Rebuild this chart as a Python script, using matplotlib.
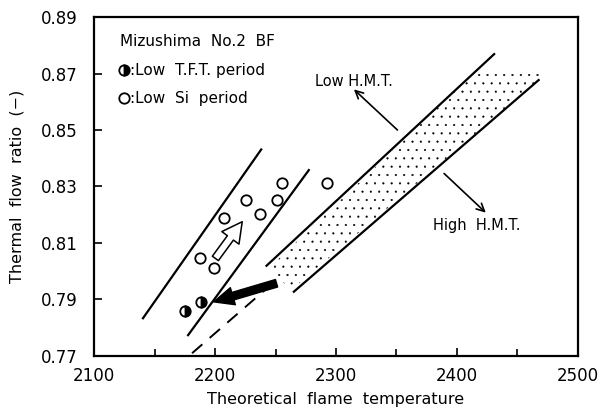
import matplotlib.pyplot as plt
from matplotlib.patches import Polygon

plt.rcParams['font.family'] = 'DejaVu Sans'
plt.rcParams['hatch.linewidth'] = 0.3

# open circles: low Si period
si_x = [2255.5, 2225.4, 2250.8, 2207.1, 2236.7, 2187.8, 2198.8, 2292.8]
si_y = [0.8313, 0.8251, 0.8251, 0.8189, 0.8202, 0.8045, 0.8012, 0.8311]

# half filled circles: low T.F.T. period
tft_x = [2174.8, 2188.4]
tft_y = [0.7858, 0.7889]

# straight guide lines (x0, x1), (y0, y1)
left_line = ([2140.3, 2238.1], [0.7833, 0.8431])
mid_line = ([2177.6, 2277.5], [0.7773, 0.8358])
dash_line = ([2180.9, 2244.4], [0.7709, 0.7945])
band_upper = ([2242.5, 2430.8], [0.8019, 0.8769])
band_lower = ([2265.1, 2467.6], [0.7927, 0.8677])

# dotted band outline
band_x = [2246.0, 2414.0, 2468.0, 2467.6, 2262.0]
band_y = [0.8017, 0.8700, 0.8700, 0.8677, 0.7930]

fig = plt.figure(figsize=(6.16, 4.08), dpi=100)
ax = fig.add_axes([0.153, 0.128, 0.785, 0.830])

ax.add_patch(Polygon(list(zip(band_x, band_y)), closed=True, fill=False,
                     hatch='..', edgecolor='black', lw=0))

for xs, ys in [left_line, mid_line, band_upper, band_lower]:
    ax.plot(xs, ys, color='black', lw=1.6)
ax.plot(dash_line[0], dash_line[1], color='black', lw=1.4, dashes=(7, 5))

ax.plot(si_x, si_y, 'o', ms=7.5, mfc='white', mec='black', mew=1.3, ls='none')
ax.plot(tft_x, tft_y, 'o', ms=7.5, mfc='black', mfcalt='white', fillstyle='right',
        mec='black', mew=1.3, ls='none')

# arrows
ax.annotate('', xy=(2198.8, 0.7891), xytext=(2250.8, 0.7957),
            arrowprops=dict(arrowstyle='simple,head_length=0.9,head_width=0.8,tail_width=0.35',
                            fc='black', ec='black', mutation_scale=16, shrinkA=0, shrinkB=0))
ax.annotate('', xy=(2222.4, 0.8175), xytext=(2200.2, 0.8045),
            arrowprops=dict(arrowstyle='simple,head_length=0.8,head_width=0.85,tail_width=0.3',
                            fc='white', ec='black', lw=1.1, mutation_scale=18, shrinkA=0, shrinkB=0))
ax.annotate('', xy=(2314.8, 0.8644), xytext=(2350.8, 0.8500),
            arrowprops=dict(arrowstyle='->', color='black', lw=1.2, mutation_scale=14,
                            shrinkA=0, shrinkB=0))
ax.annotate('', xy=(2423.9, 0.8207), xytext=(2389.4, 0.8346),
            arrowprops=dict(arrowstyle='->', color='black', lw=1.2, mutation_scale=14,
                            shrinkA=0, shrinkB=0))

ax.text(2282.3, 0.8671, 'Low H.M.T.', fontsize=10.5, va='center')
ax.text(2380.6, 0.8163, 'High  H.M.T.', fontsize=10.5, va='center')

# legend block
ax.text(2121.5, 0.8813, 'Mizushima  No.2  BF', fontsize=11, va='center')
ax.plot([2125.0], [0.8712], 'o', ms=7.5, mfc='black', mfcalt='white', fillstyle='right',
        mec='black', mew=1.3)
ax.plot([2125.0], [0.8612], 'o', ms=7.5, mfc='white', mec='black', mew=1.3)
ax.text(2129.5, 0.8712, ':Low  T.F.T. period', fontsize=11, va='center')
ax.text(2129.5, 0.8612, ':Low  Si  period', fontsize=11, va='center')

ax.set_xlim(2100, 2500)
ax.set_ylim(0.77, 0.89)
ax.set_xticks([2100, 2200, 2300, 2400, 2500])
ax.set_xticks([2150, 2250, 2350, 2450], minor=True)
ax.set_yticks([0.77, 0.79, 0.81, 0.83, 0.85, 0.87, 0.89])
ax.set_yticklabels(['0.77', '0.79', '0.81', '0.83', '0.85', '0.87', '0.89'])
ax.tick_params(direction='in', length=6, width=1.2, labelsize=12)
ax.tick_params(which='minor', direction='in', length=5, width=1.2)
ax.tick_params(axis='x', pad=8)
ax.tick_params(axis='y', pad=12)
for s in ax.spines.values():
    s.set_linewidth(1.6)

ax.set_xlabel('Theoretical  flame  temperature', fontsize=11.5, labelpad=5)
ax.set_ylabel('Thermal  flow  ratio  (\u2212)', fontsize=11.5, labelpad=12)

fig.savefig('out.png', dpi=100)
